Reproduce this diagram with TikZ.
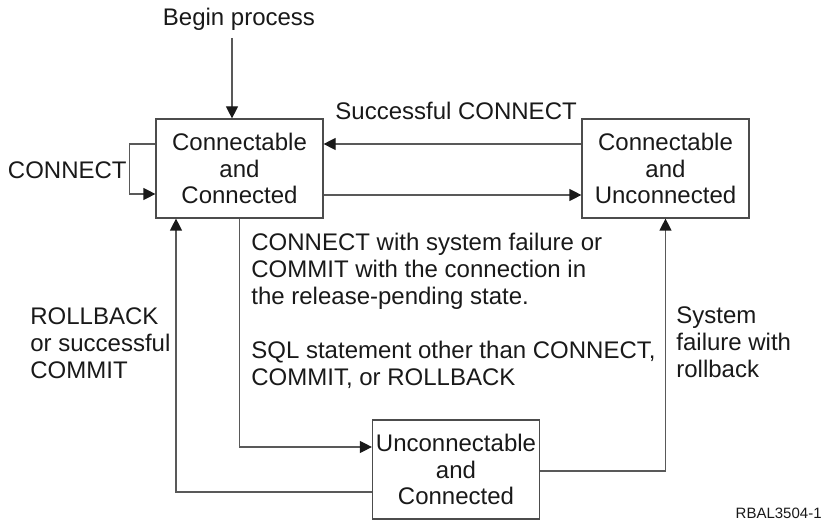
\documentclass[tikz,border=0pt]{standalone}
\usepackage{fontspec}
\setmainfont{Liberation Sans}
\usetikzlibrary{arrows.meta,calc}
\begin{document}
\begin{tikzpicture}[x=0.5pt,y=-0.5pt,
  state/.style={draw=black!70, line width=0.6pt, minimum width=83.5pt, minimum height=49.5pt,
    align=center, inner sep=0pt, text=black!90, font=\fontsize{12}{13.25}\selectfont},
  arr/.style={-{Triangle[length=6pt,width=6pt,color=black!90]}, draw=black!65, line width=0.6pt},
  lbl/.style={inner sep=0pt, align=left, text=black!90, font=\fontsize{12}{13.5}\selectfont}]
\useasboundingbox (0,0) rectangle (825,523);

\node[state] (A) at (239.5,168.5) {Connectable\\and\\Connected};
\node[state] (B) at (665.5,168.5) {Connectable\\and\\Unconnected};
\node[state] (C) at (456,469.5) {Unconnectable\\and\\Connected};

\node[lbl, anchor=base] (begin) at (239,26) {Begin process};
\coordinate (b1) at (232,38);
\draw[arr] (b1) -- (b1 |- A.north);

\node[lbl, anchor=base east] (conn) at (127,179) {CONNECT};
\draw[arr] ($(A.west)+(0,-24.5)$) -- ++(-26,0) |- ($(A.west)+(0,25.5)$);

\node[lbl, anchor=base west] (succ) at (335,120) {Successful CONNECT};
\draw[arr] ($(B.west)+(0,-24.5)$) -- ($(A.east)+(0,-24.5)$);
\draw[arr] ($(A.east)+(0,26.5)$) -- ($(B.west)+(0,26.5)$);

\node[lbl, anchor=north west] (fail) at (251,233) {CONNECT with system failure or\\COMMIT with the connection in\\the release-pending state.};
\node[lbl, anchor=north west] (sql) at (251,341) {SQL statement other than CONNECT,\\COMMIT, or ROLLBACK};
\draw[arr] (A.south) |- ($(C.west)+(0,-22.5)$);

\node[lbl, anchor=north west] (roll) at (30,307) {ROLLBACK\\or successful\\COMMIT};
\draw[arr] ($(C.west)+(0,22.5)$) -| ($(A.south)+(-63.5,0)$);

\node[lbl, anchor=north west] (sys) at (676,306) {System\\failure with\\rollback};
\draw[arr] ($(C.east)+(0,1.5)$) -| (B.south);

\node[inner sep=0pt, anchor=base east, text=black!90, font=\fontsize{7.5}{9}\selectfont] (id) at (822,519) {RBAL3504-1};
\end{tikzpicture}
\end{document}
